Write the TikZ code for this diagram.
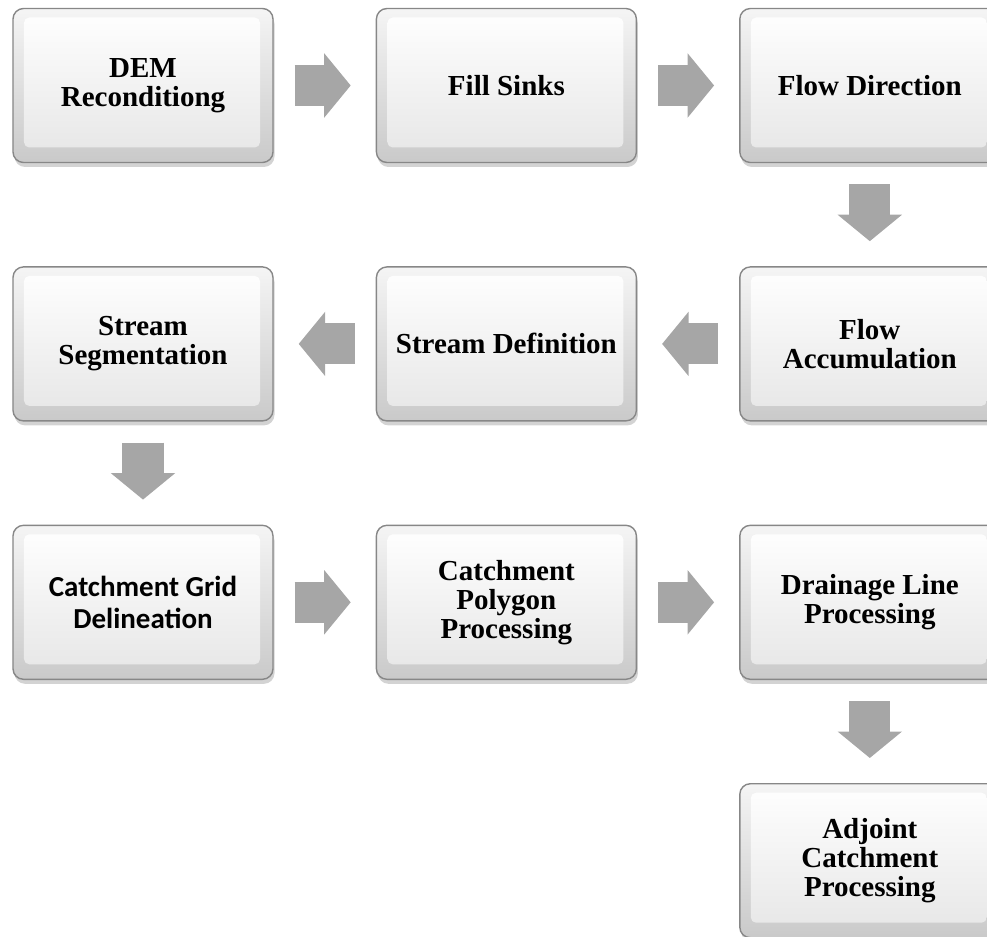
\documentclass[tikz,border=0pt]{standalone}
\usepackage{fontspec}
\setmainfont{Liberation Serif}
\newfontfamily\calibri{Carlito}
\usepackage{tikz}
\usetikzlibrary{positioning, calc, arrows.meta, shadows}
\definecolor{boxedge}  {RGB}{135, 135, 135}
\definecolor{arrowgray}{RGB}{166, 166, 166}
\tikzset{
  % Process step box
  block/.style={
    rectangle, rounded corners=6pt,
    minimum width=5.2cm, minimum height=3.08cm,
    top color=gray!8, bottom color=gray!42, draw=boxedge, line width=0.8pt,
    drop shadow={shadow xshift=0.03cm, shadow yshift=-0.09cm, opacity=0.35},
    path picture={
      \shade[top color=white, bottom color=gray!20, rounded corners=3pt]
        ([shift={(0.22,-0.18)}]path picture bounding box.north west) rectangle
        ([shift={(-0.26,0.3)}]path picture bounding box.south east);
    },
    font=\fontsize{16.5}{16.5}\selectfont\bfseries, align=center, text=black
  },
  % Block arrow between boxes
  arr/.style={
    -{Triangle[width=1.26cm, length=0.53cm]}, line width=0.82cm,
    color=arrowgray, shorten <=0.42cm, shorten >=0.5cm
  },
}
\begin{document}
\begin{tikzpicture}[node distance=2.06cm and 2.04cm]
  \useasboundingbox (-2.86,1.71) rectangle (16.88,-17.03);
  \clip (-2.86,1.71) rectangle (16.88,-17.03);
  % row 1
  \node[block] (n1) at (0,0) {DEM\\Reconditiong};
  \node[block, right=of n1] (n2) {Fill Sinks};
  \node[block, right=of n2] (n3) {Flow Direction};
  % row 2
  \node[block, below=of n3] (n4) {Flow\\Accumulation};
  \node[block, left=of n4]  (n5) {Stream Definition};
  \node[block, left=of n5]  (n6) {Stream\\Segmentation};
  % row 3
  \node[block, below=of n6, font=\calibri\fontsize{16.5}{18.5}\selectfont\bfseries] (n7)
    {Catchment Grid\\Delineation};
  \node[block, right=of n7] (n8) {Catchment\\Polygon\\Processing};
  \node[block, right=of n8] (n9) {Drainage Line\\Processing};
  % row 4
  \node[block, below=of n9] (n10) {Adjoint\\Catchment\\Processing};
  % arrows
  \draw[arr] (n1) -- (n2);
  \draw[arr] (n2) -- (n3);
  \draw[arr] (n3) -- (n4);
  \draw[arr] (n4) -- (n5);
  \draw[arr] (n5) -- (n6);
  \draw[arr] (n6) -- (n7);
  \draw[arr] (n7) -- (n8);
  \draw[arr] (n8) -- (n9);
  \draw[arr] (n9) -- (n10);
\end{tikzpicture}
\end{document}
